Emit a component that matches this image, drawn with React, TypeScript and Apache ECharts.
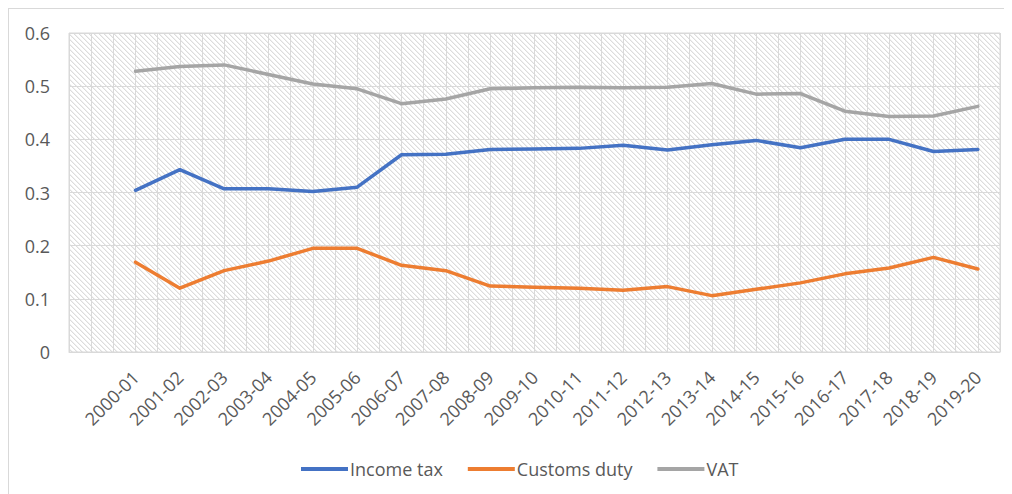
import React, { useEffect, useRef } from "react";
import * as echarts from "echarts";

const years = [
  "2000-01", "2001-02", "2002-03", "2003-04", "2004-05", "2005-06", "2006-07",
  "2007-08", "2008-09", "2009-10", "2010-11", "2011-12", "2012-13", "2013-14",
  "2014-15", "2015-16", "2016-17", "2017-18", "2018-19", "2019-20",
];
const incomeTax = [
  0.304, 0.343, 0.307, 0.307, 0.302, 0.31, 0.371, 0.372, 0.381, 0.382,
  0.383, 0.389, 0.38, 0.39, 0.398, 0.384, 0.4, 0.4, 0.377, 0.381,
];
const customsDuty = [
  0.169, 0.12, 0.153, 0.171, 0.195, 0.195, 0.163, 0.153, 0.124, 0.122,
  0.12, 0.116, 0.123, 0.106, 0.118, 0.13, 0.147, 0.158, 0.178, 0.156,
];
const vat = [
  0.528, 0.537, 0.54, 0.522, 0.504, 0.495, 0.467, 0.476, 0.495, 0.497,
  0.498, 0.497, 0.498, 0.505, 0.485, 0.486, 0.453, 0.443, 0.444, 0.462,
];
const seriesNames = ["Income tax", "Customs duty", "VAT"];
const seriesColors = ["#4472C4", "#ED7D31", "#A5A5A5"];

const FONT = "'Open Sans', 'Noto Sans', sans-serif";
const TEXT = "#595959";
const GRID = "#d9d9d9";

function makeHatch(): HTMLCanvasElement {
  const n = 5;
  const c = document.createElement("canvas");
  c.width = n;
  c.height = n;
  const ctx = c.getContext("2d")!;
  ctx.fillStyle = "#ffffff";
  ctx.fillRect(0, 0, n, n);
  for (let i = 0; i < n; i++) {
    ctx.fillStyle = "#dcdcdc";
    ctx.fillRect(i, i, 1, 1);
    ctx.fillStyle = "#f0f0f0";
    ctx.fillRect((i + 1) % n, i, 1, 1);
  }
  return c;
}

export default function App() {
  const ref = useRef<HTMLDivElement>(null);
  useEffect(() => {
    if (!ref.current) return;
    const chart = echarts.init(ref.current, null, { renderer: "svg" });
    const cats = ["", ...years];
    const minorCats = Array.from({ length: cats.length * 2 }, () => "");
    const dataSets = [incomeTax, customsDuty, vat];
    chart.setOption({
      animation: false,
      textStyle: { fontFamily: FONT },
      grid: {
        left: 60,
        right: 12,
        top: 24,
        bottom: 142,
        show: true,
        borderColor: GRID,
        borderWidth: 1,
        backgroundColor: { image: makeHatch(), repeat: "repeat", imageWidth: 5, imageHeight: 5 },
      },
      legend: {
        left: 287,
        top: 446,
        itemWidth: 47,
        itemHeight: 4,
        itemGap: 25,
        icon: "rect",
        textStyle: { fontFamily: FONT, fontSize: 18, color: TEXT, padding: [0, 0, 0, -3] },
        data: seriesNames,
      },
      xAxis: [
        {
          type: "category",
          data: cats,
          boundaryGap: true,
          axisLine: { show: true, lineStyle: { color: GRID, width: 1 } },
          axisTick: { show: false },
          splitLine: { show: false },
          axisLabel: {
            interval: 0,
            rotate: 45,
            margin: 22,
            fontFamily: FONT,
            fontSize: 18,
            color: TEXT,
          },
        },
        {
          type: "category",
          data: minorCats,
          boundaryGap: true,
          position: "bottom",
          axisLine: { show: false },
          axisTick: { show: false },
          axisLabel: { show: false },
          splitLine: { show: true, interval: 0, lineStyle: { color: GRID, width: 1 } },
        },
      ],
      yAxis: {
        type: "value",
        min: 0,
        max: 0.6,
        interval: 0.1,
        axisLine: { show: false },
        axisTick: { show: false },
        splitLine: { show: true, lineStyle: { color: GRID, width: 1 } },
        axisLabel: {
          margin: 19,
          fontFamily: FONT,
          fontSize: 18,
          color: TEXT,
          formatter: (v: number) => String(Math.round(v * 10) / 10),
        },
      },
      series: seriesNames.map((name, i) => ({
        name,
        type: "line",
        xAxisIndex: 0,
        data: ["-", ...dataSets[i]],
        showSymbol: false,
        symbol: "none",
        color: seriesColors[i],
        lineStyle: { width: 3.5, color: seriesColors[i], cap: "round", join: "round" },
      })),
    });
    return () => chart.dispose();
  }, []);
  return (
    <div
      style={{
        width: 1004,
        height: 486,
        boxSizing: "border-box",
        borderTop: "1px solid #d9d9d9",
        borderLeft: "1px solid #d9d9d9",
        background: "#fff",
      }}
    >
      <div ref={ref} style={{ width: 1003, height: 485 }} />
    </div>
  );
}
